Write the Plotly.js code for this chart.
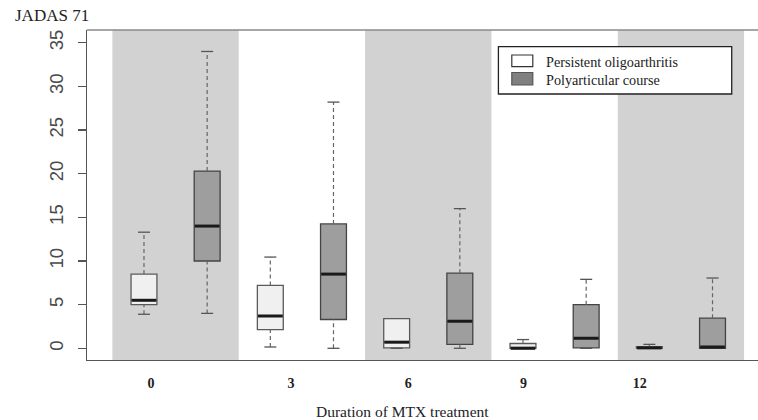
<!DOCTYPE html>
<html>
<head>
<meta charset="utf-8">
<script src="https://cdn.plot.ly/plotly-3.0.1.min.js"></script>
<style>html,body{margin:0;padding:0;background:#fff;}#chart{width:758px;height:420px;}</style>
</head>
<body>
<div id="chart"></div>
<script>
// ---- Data ----
const categories = ["0", "3", "6", "9", "12"];
const seriesNames = ["Persistent oligoarthritis", "Polyarticular course"];

const oligoMin = [3.9, 0.15, 0.0, 0.0, 0.0];
const oligoQ1  = [5.0, 2.15, 0.05, 0.0, 0.0];
const oligoMed = [5.5, 3.7, 0.7, 0.0, 0.05];
const oligoQ3  = [8.5, 7.2, 3.4, 0.55, 0.2];
const oligoMax = [13.3, 10.45, 3.4, 1.0, 0.45];

const polyMin = [4.0, 0.0, 0.0, 0.0, 0.0];
const polyQ1  = [10.0, 3.3, 0.45, 0.05, 0.0];
const polyMed = [14.0, 8.5, 3.1, 1.15, 0.15];
const polyQ3  = [20.3, 14.25, 8.6, 5.0, 3.45];
const polyMax = [34.0, 28.2, 16.0, 7.9, 8.05];

const yTicks = [0, 5, 10, 15, 20, 25, 30, 35];

// ---- Build traces ----
const oligoX = categories.map((c, i) => 2 * i + 1);
const polyX  = categories.map((c, i) => 2 * i + 2);
const boxW = 0.41, capW = 0.095;

function boxTrace(x, q1, med, q3, fill, border) {
  return {
    type: 'box', x: x, q1: q1, median: med, q3: q3,
    lowerfence: q1, upperfence: q3,
    width: boxW, fillcolor: fill,
    line: {color: border, width: 1.3},
    whiskerwidth: 0, boxpoints: false,
    hoverinfo: 'skip', showlegend: false
  };
}
function whiskerTrace(x, mn, q1, q3, mx) {
  const xs = [], ys = [];
  x.forEach((p, i) => {
    if (mx[i] > q3[i]) { xs.push(p, p, null); ys.push(q3[i], mx[i], null); }
    if (mn[i] < q1[i]) { xs.push(p, p, null); ys.push(mn[i], q1[i], null); }
  });
  return {type: 'scatter', mode: 'lines', x: xs, y: ys, hoverinfo: 'skip', showlegend: false,
          line: {color: '#666', width: 1.2, dash: '4px,3px'}};
}
function capTrace(x, mn, q1, q3, mx) {
  const xs = [], ys = [];
  x.forEach((p, i) => {
    if (mx[i] > q3[i]) { xs.push(p - capW, p + capW, null); ys.push(mx[i], mx[i], null); }
    if (mn[i] < q1[i]) { xs.push(p - capW, p + capW, null); ys.push(mn[i], mn[i], null); }
  });
  return {type: 'scatter', mode: 'lines', x: xs, y: ys, hoverinfo: 'skip', showlegend: false,
          line: {color: '#555', width: 1.3}};
}
function medianTrace(x, med) {
  const xs = [], ys = [];
  x.forEach((p, i) => { xs.push(p - boxW / 2 + 0.01, p + boxW / 2 - 0.01, null); ys.push(med[i], med[i], null); });
  return {type: 'scatter', mode: 'lines', x: xs, y: ys, hoverinfo: 'skip', showlegend: false,
          line: {color: '#1a1a1a', width: 3}};
}

const traces = [
  whiskerTrace(oligoX, oligoMin, oligoQ1, oligoQ3, oligoMax),
  whiskerTrace(polyX, polyMin, polyQ1, polyQ3, polyMax),
  capTrace(oligoX, oligoMin, oligoQ1, oligoQ3, oligoMax),
  capTrace(polyX, polyMin, polyQ1, polyQ3, polyMax),
  boxTrace(oligoX, oligoQ1, oligoMed, oligoQ3, '#f0f0f0', '#5a5a5a'),
  boxTrace(polyX, polyQ1, polyMed, polyQ3, '#9e9e9e', '#444444'),
  medianTrace(oligoX, oligoMed),
  medianTrace(polyX, polyMed)
];

// ---- Layout helpers (pixel -> paper) ----
const L = 86.7, R = 758, T = 30, B = 360;
const px = v => (v - L) / (R - L);
const py = v => (B - v) / (B - T);

const shapes = [];
// alternating gray bands
[[0.5, 2.5], [4.5, 6.5], [8.5, 10.5]].forEach(b => shapes.push({
  type: 'rect', xref: 'x', yref: 'paper', x0: b[0], x1: b[1], y0: 0, y1: 1,
  fillcolor: '#d2d2d2', line: {width: 0}, layer: 'below'
}));
// top frame line
shapes.push({type: 'line', xref: 'paper', yref: 'paper', x0: 0, x1: 1, y0: 1, y1: 1,
  line: {color: '#8a8a8a', width: 1.3}});
// legend box and swatches
shapes.push({type: 'rect', xref: 'paper', yref: 'paper', x0: px(498.3), x1: px(731.7), y0: py(94), y1: py(46.7),
  fillcolor: '#ffffff', line: {color: '#222', width: 1.3}});
shapes.push({type: 'rect', xref: 'paper', yref: 'paper', x0: px(511.7), x1: px(532.7), y0: py(66.7), y1: py(55),
  fillcolor: '#ffffff', line: {color: '#333', width: 1.2}});
shapes.push({type: 'rect', xref: 'paper', yref: 'paper', x0: px(511.7), x1: px(532.7), y0: py(85), y1: py(72.5),
  fillcolor: '#808080', line: {color: '#555', width: 1.2}});

const serif = 'Liberation Serif, Times New Roman, serif';
const annotations = [
  {text: 'JADAS 71', xref: 'paper', yref: 'paper', x: px(13), y: py(16), xanchor: 'left', yanchor: 'middle',
   showarrow: false, font: {family: serif, size: 17, color: '#222'}},
  {text: seriesNames[0], xref: 'paper', yref: 'paper', x: px(544), y: py(61.5), xanchor: 'left', yanchor: 'middle',
   showarrow: false, font: {family: serif, size: 14.2, color: '#222'}},
  {text: seriesNames[1], xref: 'paper', yref: 'paper', x: px(544), y: py(79.5), xanchor: 'left', yanchor: 'middle',
   showarrow: false, font: {family: serif, size: 14.2, color: '#222'}},
  {text: 'Duration of MTX treatment', xref: 'paper', yref: 'paper', x: px(402.5), y: py(411), xanchor: 'center', yanchor: 'middle',
   showarrow: false, font: {family: serif, size: 15.5, color: '#222'}}
];

const layout = {
  width: 758, height: 420,
  margin: {l: L, r: 0, t: T, b: 420 - B, pad: 0},
  paper_bgcolor: '#ffffff', plot_bgcolor: '#ffffff',
  showlegend: false,
  xaxis: {
    range: [0.098, 10.72], showgrid: false, zeroline: false,
    showline: true, linecolor: '#555', linewidth: 1.3,
    tickmode: 'array', tickvals: [1.111, 3.329, 5.182, 7.008, 8.85], ticktext: categories,
    ticks: 'outside', ticklen: 10, tickcolor: 'rgba(0,0,0,0)',
    tickfont: {family: serif, size: 14, color: '#222', weight: 'bold'}
  },
  yaxis: {
    range: [-1.34, 36.46], showgrid: false, zeroline: false,
    showline: true, linecolor: '#555', linewidth: 1.3,
    tickmode: 'array', tickvals: yTicks,
    ticks: 'outside', ticklen: 8, tickcolor: '#555', tickwidth: 1.2,
    tickangle: -90, ticklabelstandoff: 7,
    tickfont: {family: 'Liberation Sans, Arial, sans-serif', size: 18.5, color: '#4a4a4a'}
  },
  shapes: shapes,
  annotations: annotations
};

Plotly.newPlot('chart', traces, layout, {staticPlot: true, displayModeBar: false});
</script>
</body>
</html>
